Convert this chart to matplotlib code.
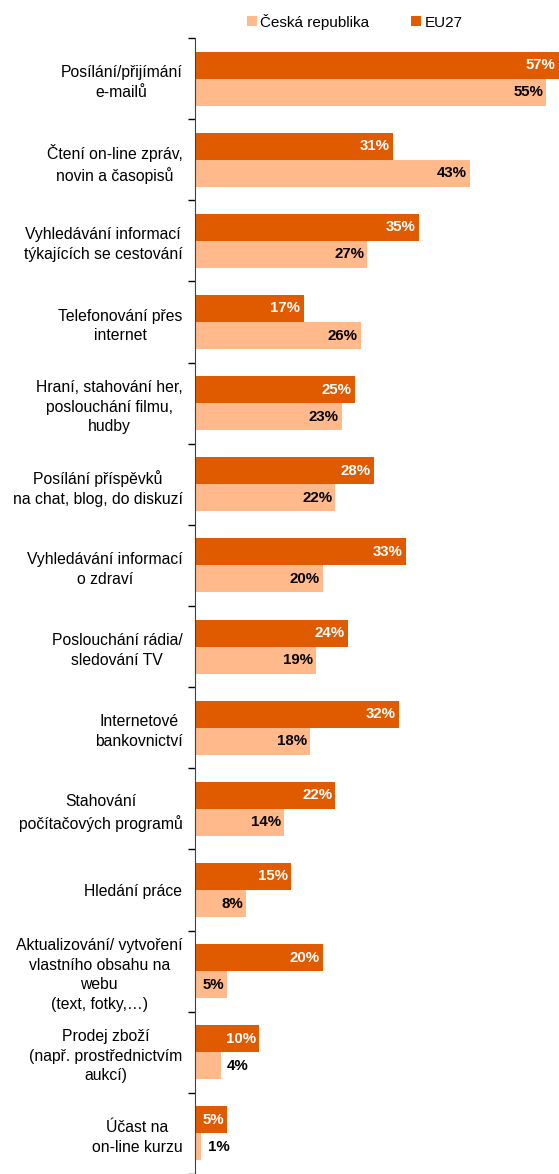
import matplotlib.pyplot as plt
import numpy as np

plt.rcParams['font.family'] = ['Liberation Sans', 'DejaVu Sans']

kategorie = [
    "Posílání/přijímání\ne-mailů",
    "Čtení on-line zpráv,\nnovin a časopisů",
    "Vyhledávání informací\ntýkajících se cestování",
    "Telefonování přes\ninternet",
    "Hraní, stahování her,\nposlouchání filmu,\nhudby",
    "Posílání příspěvků\nna chat, blog, do diskuzí",
    "Vyhledávání informací\no zdraví",
    "Poslouchání rádia/\nsledování TV",
    "Internetové\nbankovnictví",
    "Stahování\npočítačových programů",
    "Hledání práce",
    "Aktualizování/ vytvoření\nvlastního obsahu na\nwebu\n(text, fotky,…)",
    "Prodej zboží\n(např. prostřednictvím\naukcí)",
    "Účast na\non-line kurzu",
]
eu27 = [57, 31, 35, 17, 25, 28, 33, 24, 32, 22, 15, 20, 10, 5]
cesko = [55, 43, 27, 26, 23, 22, 20, 19, 18, 14, 8, 5, 4, 1]

BARVA_EU = "#E05A00"
BARVA_CZ = "#FFB98A"

fig = plt.figure(figsize=(5.59, 11.74), dpi=100)
ax = fig.add_axes([195 / 559, 0, 1 - 195 / 559, 1 - 38 / 1174])

y = np.arange(len(kategorie))
h = 1 / 3
ax.barh(y - h / 2, eu27, height=h, color=BARVA_EU, label="EU27")
ax.barh(y + h / 2, cesko, height=h, color=BARVA_CZ, label="Česká republika")

# popisky hodnot
for i in range(len(kategorie)):
    ax.text(eu27[i] - 0.5, y[i] - h / 2, f"{eu27[i]}%", ha="right", va="center",
            color="white", fontsize=10.8, fontweight="bold")
    if cesko[i] >= 5:
        ax.text(cesko[i] - 0.5, y[i] + h / 2, f"{cesko[i]}%", ha="right", va="center",
                color="black", fontsize=10.8, fontweight="bold")
    else:
        ax.text(cesko[i] + 1.0, y[i] + h / 2, f"{cesko[i]}%", ha="left", va="center",
                color="black", fontsize=10.8, fontweight="bold")

ax.set_xlim(0, 57)
ax.set_ylim(len(kategorie) - 0.5, -0.5)
ax.set_yticks(y)
ax.set_yticklabels(kategorie, fontsize=11.3, multialignment="center", linespacing=1.4)
ax.set_yticks(np.arange(len(kategorie) + 1) - 0.5, minor=True)
ax.tick_params(axis="y", which="major", length=0, pad=9)
ax.tick_params(axis="y", which="minor", length=5, width=1, direction="out")
ax.set_xticks([])
for s in ["top", "right", "bottom"]:
    ax.spines[s].set_visible(False)
ax.spines["left"].set_color("#404040")

handles, labels = ax.get_legend_handles_labels()
fig.legend(handles[::-1], labels[::-1], loc="upper left", bbox_to_anchor=(233 / 559, 1.0),
           ncol=2, frameon=False, fontsize=11, handlelength=0.65, handleheight=0.65,
           handletextpad=0.22, columnspacing=2.75)

fig.savefig("out.png", dpi=100)
